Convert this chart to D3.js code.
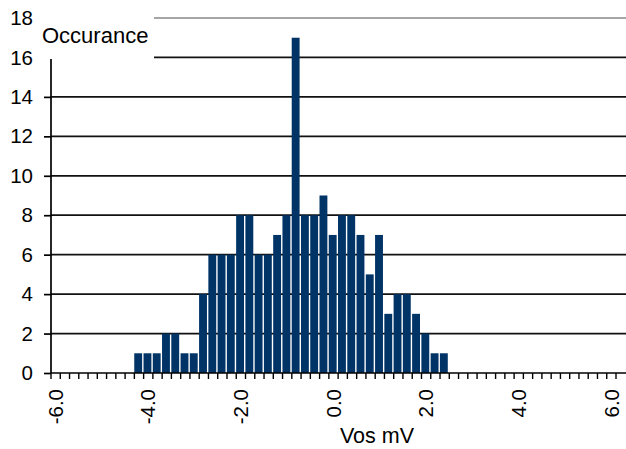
<!DOCTYPE html>
<html>
<head>
<meta charset="utf-8">
<script src="https://cdn.jsdelivr.net/npm/d3@7"></script>
<style>
    body { margin: 0; background: #fff; }
    svg { display: block; font-family: "Liberation Sans", Arial, sans-serif; }
</style>
</head>
<body>
<div id="chart"></div>
<script>
// bins of 0.2 mV from -6.0 to 6.0
let categories = d3.range(-30, 31).map(i => (i / 5).toFixed(1))
let bin_labels = ["-4.2", "-4.0", "-3.8", "-3.6", "-3.4", "-3.2", "-3.0", "-2.8", "-2.6", "-2.4", "-2.2",
    "-2.0", "-1.8", "-1.6", "-1.4", "-1.2", "-1.0", "-0.8", "-0.6", "-0.4", "-0.2", "0.0", "0.2", "0.4",
    "0.6", "0.8", "1.0", "1.2", "1.4", "1.6", "1.8", "2.0", "2.2", "2.4"]
let counts = [1, 1, 1, 2, 2, 1, 1, 4, 6, 6, 6,
    8, 8, 6, 6, 7, 8, 17, 8, 8, 9, 7, 8, 8,
    7, 5, 7, 3, 4, 4, 3, 2, 1, 1]
let x_tick_labels = ["-6.0", "-4.0", "-2.0", "0.0", "2.0", "4.0", "6.0"]
let y_ticks = [0, 2, 4, 6, 8, 10, 12, 14, 16, 18]

let data = bin_labels.map((b, i) => ({bin: b, count: counts[i]}))

let width = 626, height = 449
let plot = {left: 51, right: 616, top: 18, bottom: 373}

let svg = d3.select("#chart").append("svg")
    .attr("width", width)
    .attr("height", height)

let x = d3.scaleBand().domain(categories).range([plot.left, plot.right]).paddingInner(0.15).paddingOuter(0.075)
let y = d3.scaleLinear().domain([0, 18]).range([plot.bottom, plot.top])

// horizontal grid lines
svg.append("g")
    .selectAll("line")
    .data(y_ticks.filter(v => v > 0))
    .enter().append("line")
    .attr("x1", plot.left)
    .attr("x2", width)
    .attr("y1", d => y(d))
    .attr("y2", d => y(d))
    .attr("stroke", d => d === 18 ? "#888" : "#111")
    .attr("stroke-width", 1.7)

// bars
svg.append("g")
    .selectAll("rect")
    .data(data)
    .enter().append("rect")
    .attr("x", d => x(d.bin) - 0.8)
    .attr("y", d => y(d.count))
    .attr("width", x.bandwidth())
    .attr("height", d => y(0) - y(d.count))
    .attr("fill", "#003366")

// y axis
let y_axis = svg.append("g")
    .attr("transform", "translate(" + plot.left + ",0)")
    .call(d3.axisLeft(y).tickValues(y_ticks).tickSize(7).tickPadding(11).tickFormat(d3.format("d")))
y_axis.select(".domain").attr("stroke", "#000").attr("stroke-width", 1.7).attr("d", "M0," + plot.top + "V" + plot.bottom)
y_axis.selectAll(".tick line").attr("stroke", "#000").attr("stroke-width", 1.7)
y_axis.selectAll("text").attr("font-size", 20.5).attr("font-family", "Liberation Sans, Arial, sans-serif").attr("fill", "#000")

// x baseline and category tick marks (between bins)
svg.append("line")
    .attr("x1", plot.left)
    .attr("x2", width)
    .attr("y1", plot.bottom)
    .attr("y2", plot.bottom)
    .attr("stroke", "#000")
    .attr("stroke-width", 1.7)

let step = x.step()
let boundaries = d3.range(categories.length + 1)
svg.append("g")
    .selectAll("line")
    .data(boundaries)
    .enter().append("line")
    .attr("x1", i => plot.left + i * step)
    .attr("x2", i => plot.left + i * step)
    .attr("y1", plot.bottom)
    .attr("y2", plot.bottom + 6)
    .attr("stroke", "#000")
    .attr("stroke-width", 1.4)

// rotated x labels
svg.append("g")
    .selectAll("text")
    .data(x_tick_labels)
    .enter().append("text")
    .attr("transform", d => "translate(" + (x(d) + x.bandwidth() / 2) + "," + (plot.bottom + 16) + ") rotate(-90)")
    .attr("text-anchor", "end")
    .attr("dy", "0.35em")
    .attr("font-size", 20.5)
    .text(d => d)

// box behind the y title hides the top of the axis
svg.append("rect")
    .attr("x", 42)
    .attr("y", 4)
    .attr("width", 112)
    .attr("height", 55)
    .attr("fill", "#fff")

svg.append("text")
    .attr("x", 42)
    .attr("y", 43)
    .attr("font-size", 22)
    .text("Occurance")

svg.append("text")
    .attr("x", 377)
    .attr("y", 443)
    .attr("text-anchor", "middle")
    .attr("font-size", 21.5)
    .text("Vos mV")
</script>
</body>
</html>
